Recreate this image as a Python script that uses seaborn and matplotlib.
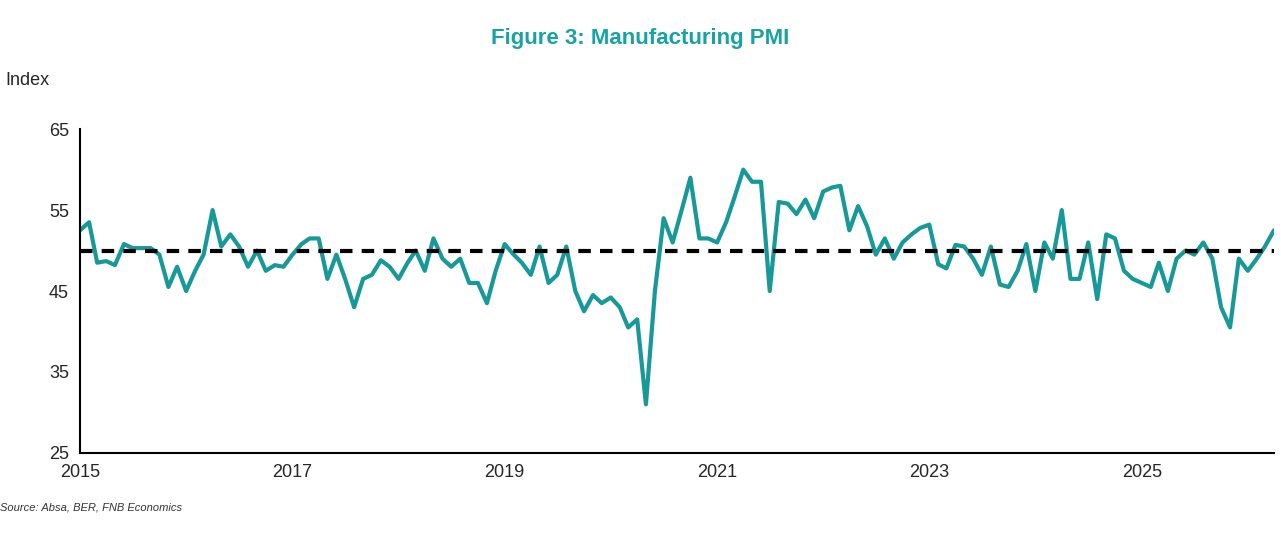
import numpy as np
import pandas as pd
import seaborn as sns
import matplotlib.pyplot as plt
import matplotlib.dates as mdates

# Manufacturing PMI, monthly readings from Jan 2015
pmi_2015 = [52.5, 53.5, 48.5, 48.7, 48.2, 50.8, 50.3, 50.3, 50.3, 49.5, 45.5, 48.0]
pmi_2016 = [45.0, 47.5, 49.5, 55.0, 50.5, 52.0, 50.5, 48.0, 50.0, 47.5, 48.2, 48.0]
pmi_2017 = [49.5, 50.8, 51.5, 51.5, 46.5, 49.5, 46.5, 43.0, 46.5, 47.0, 48.8, 48.0]
pmi_2018 = [46.5, 48.5, 50.0, 47.5, 51.5, 49.0, 48.0, 49.0, 46.0, 46.0, 43.5, 47.5]
pmi_2019 = [50.8, 49.5, 48.5, 47.0, 50.5, 46.0, 47.0, 50.5, 45.0, 42.5, 44.5, 43.5]
pmi_2020 = [44.2, 43.0, 40.5, 41.5, 31.0, 45.0, 54.0, 51.0, 55.0, 59.0, 51.5, 51.5]
pmi_2021 = [51.0, 53.5, 56.5, 60.0, 58.5, 58.5, 45.0, 56.0, 55.8, 54.5, 56.3, 54.0]
pmi_2022 = [57.3, 57.8, 58.0, 52.5, 55.5, 53.0, 49.5, 51.5, 49.0, 51.0, 52.0, 52.8]
pmi_2023 = [53.2, 48.3, 47.8, 50.7, 50.5, 49.0, 47.0, 50.5, 45.8, 45.5, 47.5, 50.8]
pmi_2024 = [45.0, 51.0, 49.0, 55.0, 46.5, 46.5, 51.0, 44.0, 52.0, 51.5, 47.5, 46.5]
pmi_2025 = [46.0, 45.5, 48.5, 45.0, 49.0, 50.0, 49.5, 51.0, 49.0, 43.0, 40.5, 49.0]
pmi_2026 = [47.5, 49.0, 50.5, 52.5]
tick_years = [2015, 2017, 2019, 2021, 2023, 2025]

values = (pmi_2015 + pmi_2016 + pmi_2017 + pmi_2018 + pmi_2019 + pmi_2020
          + pmi_2021 + pmi_2022 + pmi_2023 + pmi_2024 + pmi_2025 + pmi_2026)
dates = pd.date_range('2015-01-01', periods=len(values), freq='MS')
df = pd.DataFrame({'date': dates, 'pmi': values})
threshold = 50

sns.set_style('white')
plt.rcParams['font.family'] = ['Liberation Sans', 'DejaVu Sans']

fig = plt.figure(figsize=(12.81, 5.45), dpi=100)
ax = fig.add_axes([0.0625, 0.169, 0.932, 0.594])

sns.lineplot(data=df, x='date', y='pmi', color='#17999a', linewidth=3, ax=ax)
ax.axhline(threshold, color='black', linestyle=(0, (3, 2.2)), linewidth=3, zorder=3)

ax.set_xlim(dates[0], dates[-1])
ax.set_ylim(25, 65)
ax.set_yticks([25, 35, 45, 55, 65])
ax.set_xticks([pd.Timestamp(f'{y}-01-01') for y in tick_years])
ax.xaxis.set_major_formatter(mdates.DateFormatter('%Y'))
ax.tick_params(labelsize=13, length=0, pad=8)
ax.set_xlabel('')
ax.set_ylabel('')
for s in ['top', 'right']:
    ax.spines[s].set_visible(False)
for s in ['left', 'bottom']:
    ax.spines[s].set_color('black')
    ax.spines[s].set_linewidth(1.5)

fig.text(0.5, 0.93, 'Figure 3: Manufacturing PMI', ha='center', va='center',
         fontsize=16, fontweight='bold', color='#17a3a5')
fig.text(0.004, 0.853, 'Index', ha='left', va='center', fontsize=13)
fig.text(0.0, 0.068, 'Source: Absa, BER, FNB Economics', ha='left', va='center',
         fontsize=8, style='italic', color='#333333')

fig.savefig('out.png', dpi=100)
